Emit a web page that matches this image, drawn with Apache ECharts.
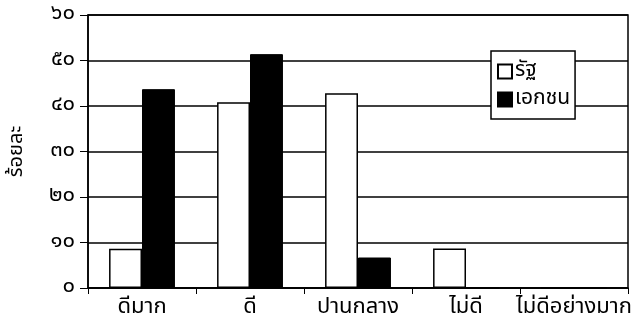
<!DOCTYPE html>
<html><head><meta charset="utf-8">
<script src="https://cdn.jsdelivr.net/npm/echarts@6/dist/echarts.min.js"></script>
<style>html,body{margin:0;padding:0;background:#fff}#c{width:641px;height:325px}</style>
</head><body><div id="c"></div>
<script>
const categories = ['ดีมาก', 'ดี', 'ปานกลาง', 'ไม่ดี', 'ไม่ดีอย่างมาก'];
const seriesNames = ['รัฐ', 'เอกชน'];
const stateValues = [8.6, 40.8, 42.8, 8.7, 0];
const privateValues = [43.7, 51.4, 6.7, 0, 0];
const yTickLabels = {0:'๐',10:'๑๐',20:'๒๐',30:'๓๐',40:'๔๐',50:'๕๐',60:'๖๐'};
const yAxisName = 'ร้อยละ';

const FONT = '"Noto Sans Thai","Noto Sans","DejaVu Sans",sans-serif';
const chart = echarts.init(document.getElementById('c'), null, {renderer:'canvas'});
chart.setOption({
  animation:false,
  backgroundColor:'#fff',
  grid:{left:88,right:13,top:15,bottom:37,show:true,borderColor:'#000',borderWidth:1.5,backgroundColor:'transparent',outerBoundsMode:'none',containLabel:false},
  legend:{
    left:491, top:51, orient:'vertical', itemGap:7, itemWidth:14, itemHeight:14,
    padding:[10,5,9,6], borderColor:'#000', borderWidth:1.5, backgroundColor:'#fff',
    textStyle:{fontFamily:FONT,fontSize:21,color:'#000',padding:[0,0,0,-2]},
    data:[{name:seriesNames[0],icon:'rect'},{name:seriesNames[1],icon:'rect'}]
  },
  xAxis:{
    type:'category', data:categories,
    axisLine:{lineStyle:{color:'#000',width:1.5}},
    axisTick:{show:true,length:6,lineStyle:{color:'#000'}},
    axisLabel:{fontFamily:FONT,fontSize:22,lineHeight:22,color:'#000',margin:10,interval:0}
  },
  yAxis:{
    type:'value', min:0, max:60, interval:10,
    name:yAxisName, nameLocation:'middle', nameGap:60, nameRotate:90,
    nameTextStyle:{fontFamily:FONT,fontSize:20,lineHeight:20,color:'#000'},
    axisLine:{show:true,lineStyle:{color:'#000',width:1.5}},
    axisTick:{show:true,length:8,lineStyle:{color:'#000'}},
    axisLabel:{fontFamily:FONT,fontSize:22,color:'#000',margin:13,formatter:v=>yTickLabels[v]},
    splitLine:{lineStyle:{color:'#000',width:1.5}}
  },
  series:[
    {name:seriesNames[0],type:'bar',data:stateValues,barGap:'0%',barCategoryGap:'39%',
     itemStyle:{color:'#fff',borderColor:'#000',borderWidth:1.5}},
    {name:seriesNames[1],type:'bar',data:privateValues,barGap:'0%',barCategoryGap:'39%',
     itemStyle:{color:'#000',borderColor:'#000',borderWidth:1}}
  ]
});
</script></body></html>
